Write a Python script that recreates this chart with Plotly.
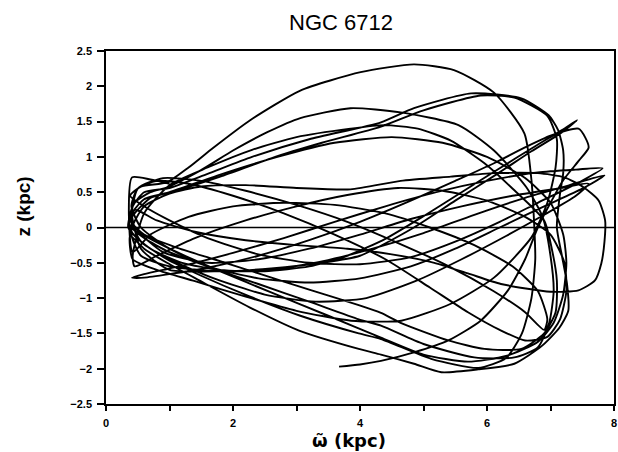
import plotly.graph_objects as go

# Meridional orbit of NGC 6712: cylindrical radius R (kpc) vs height z (kpc),
# traced as a sequence of radial excursions (pericentre -> apocentre -> pericentre).
loop1_R = [3.67, 4.0, 4.33, 4.85, 5.39, 5.9, 6.33, 6.6, 6.8, 7.0, 7.2, 7.45, 7.6, 7.55, 7.44, 7.0, 6.59, 6.11, 5.5, 4.8, 4.0, 3.2, 2.4, 1.6, 1.0, 0.6, 0.41]
loop1_z = [-1.97, -1.94, -1.89, -1.77, -1.6, -1.32, -0.89, -0.45, 0.0, 0.35, 0.67, 0.95, 1.13, 1.27, 1.4, 1.3, 1.13, 0.91, 0.66, 0.38, 0.08, -0.18, -0.4, -0.57, -0.66, -0.71, -0.71]

loop2_R = [0.6, 1.0, 1.4, 2.0, 2.8, 3.6, 4.4, 5.2, 6.0, 6.8, 7.4, 7.82, 7.45, 6.8, 6.2, 5.5, 4.8, 4.0, 3.2, 2.4, 1.6, 1.0, 0.6, 0.38]
loop2_z = [-0.66, -0.58, -0.5, -0.36, -0.15, 0.08, 0.3, 0.5, 0.66, 0.78, 0.82, 0.84, 0.64, 0.35, 0.08, -0.2, -0.42, -0.52, -0.5, -0.38, -0.15, 0.1, 0.3, 0.45]

loop3_R = [0.55, 0.96, 1.3, 1.69, 2.27, 3.06, 4.01, 4.85, 5.48, 6.11, 6.59, 6.7, 6.74, 6.76, 6.7, 6.55, 6.3, 5.86, 5.12, 4.33, 3.98, 3.06, 2.27, 1.49, 0.96, 0.55, 0.35]
loop3_z = [0.58, 0.64, 0.85, 1.13, 1.52, 1.94, 2.2, 2.31, 2.23, 1.91, 1.33, 0.67, 0.1, -0.45, -1.0, -1.5, -1.85, -1.99, -1.86, -1.58, -1.5, -1.25, -0.98, -0.68, -0.45, -0.2, 0.0]

loop4_R = [0.45, 0.7, 0.96, 1.49, 2.0, 2.54, 3.06, 3.85, 4.64, 5.55, 6.11, 6.62, 6.88, 7.0, 7.05, 6.98, 6.8, 6.43, 5.8, 5.0, 4.33, 3.98, 3.2, 2.4, 1.6, 1.0, 0.6, 0.36]
loop4_z = [0.35, 0.5, 0.57, 0.81, 1.09, 1.35, 1.55, 1.69, 1.63, 1.45, 1.09, 0.57, 0.14, -0.4, -0.9, -1.35, -1.7, -1.84, -1.84, -1.65, -1.39, -1.3, -1.05, -0.8, -0.55, -0.35, -0.15, 0.05]

loop5_R = [0.42, 0.6, 1.0, 1.6, 2.3, 3.2, 4.33, 4.85, 5.75, 6.54, 6.97, 7.12, 7.2, 7.2, 7.15, 7.1, 7.18, 7.26, 7.28, 7.14, 6.86, 6.43, 5.86, 5.28, 4.85, 4.33, 3.98, 3.04, 2.26, 1.47, 0.96, 0.6, 0.38]
loop5_z = [0.3, 0.5, 0.56, 0.76, 1.0, 1.25, 1.49, 1.69, 1.9, 1.83, 1.59, 1.38, 1.09, 0.77, 0.48, 0.0, -0.4, -0.8, -1.18, -1.42, -1.68, -1.93, -2.01, -2.05, -1.93, -1.8, -1.72, -1.46, -1.13, -0.75, -0.5, -0.3, -0.12]

loop6_R = [0.42, 0.8, 1.4, 2.2, 3.0, 3.86, 4.65, 5.43, 6.11, 6.7, 6.95, 7.08, 7.1, 6.95, 6.43, 5.9, 5.0, 4.33, 3.4, 2.6, 1.8, 1.1, 0.6, 0.4]
loop6_z = [-0.45, -0.6, -0.76, -0.98, -1.18, -1.32, -1.32, -1.08, -0.71, -0.14, 0.35, 0.85, 1.25, 1.58, 1.84, 1.87, 1.66, 1.43, 1.2, 0.98, 0.72, 0.52, 0.4, 0.2]

loop7_R = [0.4, 0.55, 1.0, 1.8, 2.6, 3.4, 4.0, 4.85, 5.5, 6.18, 6.7, 7.15, 7.42, 7.18, 6.72, 6.2, 5.6, 5.0, 4.4, 3.8, 3.2, 2.5, 1.8, 1.2, 0.7, 0.4]
loop7_z = [0.2, -0.3, -0.6, -0.62, -0.58, -0.5, -0.4, 0.0, 0.38, 0.77, 1.08, 1.33, 1.52, 1.38, 1.13, 0.84, 0.5, 0.16, -0.16, -0.4, -0.55, -0.62, -0.6, -0.5, -0.3, -0.05]

loop8_R = [0.6, 1.0, 1.5, 2.2, 3.0, 3.85, 4.64, 5.43, 6.11, 6.8, 7.22, 7.52, 7.76, 7.86, 7.85, 7.8, 7.7, 7.44, 7.0, 6.22, 5.7, 5.17, 4.5, 3.8, 3.0, 2.2, 1.4, 0.8, 0.45]
loop8_z = [0.3, 0.48, 0.58, 0.6, 0.56, 0.54, 0.66, 0.72, 0.77, 0.77, 0.71, 0.57, 0.38, 0.1, -0.2, -0.51, -0.75, -0.89, -0.91, -0.8, -0.65, -0.5, -0.38, -0.3, -0.25, -0.18, -0.06, 0.1, 0.25]

loop9_R = [0.4, 0.55, 1.0, 1.8, 2.6, 3.4, 4.2, 5.0, 5.8, 6.6, 7.3, 7.85, 7.5, 6.9, 6.2, 5.5, 4.8, 4.0, 3.2, 2.4, 1.6, 1.0, 0.55, 0.4, 0.5]
loop9_z = [-0.1, -0.4, -0.55, -0.62, -0.6, -0.48, -0.3, -0.08, 0.18, 0.42, 0.6, 0.74, 0.55, 0.3, 0.0, -0.3, -0.55, -0.72, -0.78, -0.72, -0.55, -0.3, 0.0, 0.3, 0.55]

loop10_R = [0.8, 1.3, 2.0, 2.8, 3.6, 4.4, 5.1, 5.7, 6.2, 6.6, 6.95, 7.15, 7.25, 7.22, 7.0, 6.6, 6.0, 5.3, 4.6, 3.8, 3.0, 2.2, 1.4, 0.8, 0.45]
loop10_z = [0.66, 0.62, 0.45, 0.2, -0.1, -0.45, -0.85, -1.2, -1.45, -1.6, -1.55, -1.3, -0.9, -0.5, -0.1, 0.15, 0.38, 0.52, 0.56, 0.46, 0.3, 0.1, -0.15, -0.4, -0.55]

loop11_R = [0.42, 0.6, 1.0, 1.6, 2.3, 3.0, 3.85, 4.38, 4.91, 5.43, 5.96, 6.38, 6.9, 7.02, 7.1, 7.08, 6.9, 6.54, 5.96, 5.39, 4.64, 4.33, 3.98, 3.2, 2.4, 1.7, 1.1, 0.6, 0.38]
loop11_z = [-0.4, 0.2, 0.6, 0.85, 1.1, 1.28, 1.4, 1.45, 1.4, 1.23, 0.91, 0.57, 0.1, -0.3, -0.75, -1.2, -1.5, -1.72, -1.72, -1.6, -1.35, -1.21, -1.1, -0.88, -0.65, -0.45, -0.28, -0.1, 0.1]

loop12_R = [0.45, 0.7, 1.0, 1.8, 2.7, 3.6, 4.5, 5.3, 6.0, 6.6, 7.0, 7.2, 7.25, 7.2, 7.05, 6.8, 6.3, 5.7, 5.0, 4.33, 3.5, 2.6, 1.8, 1.0, 0.5, 0.4]
loop12_z = [0.2, 0.42, 0.5, 0.75, 1.0, 1.2, 1.28, 1.2, 1.0, 0.7, 0.35, -0.1, -0.5, -0.95, -1.35, -1.62, -1.82, -1.9, -1.8, -1.56, -1.25, -0.92, -0.62, -0.3, -0.05, 0.1]

loop13_R = [0.5, 0.9, 1.6, 2.4, 3.2, 4.0, 4.8, 5.6, 6.4, 7.1, 7.6, 7.4, 6.9, 6.3, 5.6, 4.9, 4.1, 3.3, 2.5, 1.7, 1.0, 0.55, 0.4]
loop13_z = [-0.05, -0.35, -0.5, -0.45, -0.3, -0.1, 0.12, 0.3, 0.45, 0.55, 0.62, 0.45, 0.18, -0.12, -0.45, -0.75, -1.0, -1.05, -0.95, -0.72, -0.45, -0.2, 0.1]

loop14_R = [0.5, 0.9, 1.5, 2.2, 3.0, 3.8, 4.6, 5.4, 6.1, 6.6, 6.9, 6.95, 6.8, 6.4, 5.8, 5.1, 4.4, 3.6, 2.8, 2.0, 1.3, 0.7, 0.42, 0.36, 0.41, 0.7, 1.0]
loop14_z = [0.55, 0.7, 0.66, 0.52, 0.32, 0.08, -0.22, -0.55, -0.9, -1.2, -1.45, -1.3, -0.9, -0.55, -0.25, 0.0, 0.2, 0.32, 0.35, 0.3, 0.15, -0.1, -0.35, 0.2, 0.71, 0.68, 0.62]

loops_R = [loop1_R, loop2_R, loop3_R, loop4_R, loop5_R, loop6_R, loop7_R,
           loop8_R, loop9_R, loop10_R, loop11_R, loop12_R, loop13_R, loop14_R]
loops_z = [loop1_z, loop2_z, loop3_z, loop4_z, loop5_z, loop6_z, loop7_z,
           loop8_z, loop9_z, loop10_z, loop11_z, loop12_z, loop13_z, loop14_z]

# axis ticks
x_ticks = [0, 1, 2, 3, 4, 5, 6, 7, 8]
x_ticklabels = ["0", "", "2", "", "4", "", "6", "", "8"]
y_ticks = [2.5, 2, 1.5, 1, 0.5, 0, -0.5, -1, -1.5, -2, -2.5]
y_ticklabels = ["2.5", "2", "1.5", "1", "0.5", "0", "\u22120.5", "\u22121", "\u22121.5", "\u22122", "\u22122.5"]

orbit_R = [r for seg in loops_R for r in seg]
orbit_z = [z for seg in loops_z for z in seg]

fig = go.Figure()
fig.add_trace(go.Scatter(
    x=orbit_R, y=orbit_z, mode="lines",
    line=dict(color="black", width=1.9, shape="spline", smoothing=0.6),
    hoverinfo="skip", showlegend=False,
))

# z = 0 reference line
fig.add_shape(type="line", x0=0, x1=8, y0=0, y1=0, xref="x", yref="y",
              line=dict(color="black", width=1.3), layer="above")

tick_font = dict(family="Liberation Sans, Arial, sans-serif", size=11, color="black", weight="bold")

fig.update_xaxes(
    range=[0, 8], tickvals=x_ticks, ticktext=x_ticklabels,
    ticks="outside", ticklen=5, tickwidth=1.5, tickcolor="black",
    showline=True, linecolor="black", linewidth=1.6, mirror=True,
    showgrid=False, zeroline=False, tickfont=tick_font, ticklabelstandoff=3,
)
fig.update_yaxes(
    range=[-2.5, 2.5], tickvals=y_ticks, ticktext=y_ticklabels,
    ticks="outside", ticklen=7, tickwidth=1.5, tickcolor="black",
    showline=True, linecolor="black", linewidth=1.6, mirror=True,
    showgrid=False, zeroline=False, tickfont=tick_font, ticklabelstandoff=3,
)

fig.add_annotation(text="NGC 6712", xref="paper", yref="paper", x=0.463, y=1.082,
                   xanchor="center", yanchor="middle", showarrow=False,
                   font=dict(family="Liberation Sans, Arial, sans-serif", size=22, color="black"))
fig.add_annotation(text="\u03c9\u0303 (kpc)", xref="paper", yref="paper", x=0.478, y=-0.104,
                   xanchor="center", yanchor="middle", showarrow=False,
                   font=dict(family="DejaVu Sans, sans-serif", size=18, color="black", weight="bold"))
fig.add_annotation(text="z (kpc)", xref="paper", yref="paper", x=-0.163, y=0.56,
                   xanchor="center", yanchor="middle", showarrow=False, textangle=-90,
                   font=dict(family="Liberation Sans, Arial, sans-serif", size=19, color="black", weight="bold"))

fig.update_layout(
    width=618, height=452,
    margin=dict(l=106, r=2, t=51, b=48),
    paper_bgcolor="white", plot_bgcolor="white",
    showlegend=False,
)

fig.write_html("out.html")
